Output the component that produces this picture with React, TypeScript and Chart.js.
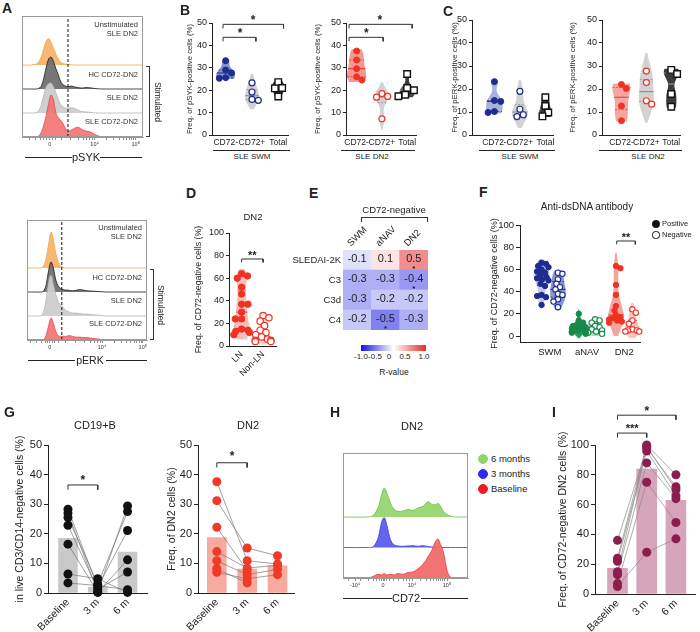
import React, { useEffect, useRef } from "react";
import { Chart, registerables } from "chart.js";

Chart.register(...registerables);

const FONT = "'Liberation Sans', Arial, Helvetica, sans-serif";
Chart.defaults.font.family = FONT;
Chart.defaults.color = "#222";

const INK = "#222222";
const NAVY = "#1d2c8e";
const RED = "#ee3324";
const GREEN = "#17894a";
const PLUM = "#8c1d4f";

/* ---------- A: phospho-flow overlays (x in biexponential display units 0-100) ---------- */
const FLOW_X = [0, 8, 12, 14, 16, 18, 20, 22, 24, 26, 28, 30, 32, 34, 36, 38, 41, 44, 47, 50, 53, 56, 59, 62, 66, 70, 100];
const PSYK_UNSTIM = [0, 0, 0.05, 0.15, 0.35, 0.7, 1.0, 1.1, 0.95, 0.7, 0.45, 0.25, 0.12, 0.06, 0.04, 0.02, 0.01, 0, 0, 0, 0, 0, 0, 0, 0, 0, 0];
const PSYK_HC = [0, 0, 0, 0.03, 0.12, 0.45, 0.9, 1.25, 1.33, 1.15, 0.85, 0.6, 0.3, 0.18, 0.12, 0.1, 0.12, 0.08, 0.05, 0.04, 0.06, 0.05, 0.03, 0.01, 0, 0, 0];
const PSYK_SLE = [0, 0, 0.02, 0.1, 0.35, 0.75, 1.1, 1.22, 1.25, 1.1, 0.85, 0.55, 0.35, 0.25, 0.2, 0.2, 0.22, 0.18, 0.1, 0.06, 0.04, 0.03, 0.01, 0, 0, 0, 0];
const PSYK_SLE_CD72NEG = [0, 0, 0.01, 0.05, 0.2, 0.5, 0.9, 1.4, 1.75, 1.55, 1.0, 0.8, 0.7, 0.55, 0.35, 0.25, 0.3, 0.38, 0.4, 0.3, 0.25, 0.22, 0.15, 0.06, 0.01, 0, 0];
const PERK_UNSTIM = [0, 0, 0, 0.1, 0.4, 1.0, 1.5, 1.2, 0.6, 0.25, 0.08, 0.02, 0, 0, 0, 0, 0, 0, 0, 0, 0, 0, 0, 0, 0, 0, 0];
const PERK_HC = [0, 0, 0, 0.05, 0.3, 0.9, 1.25, 1.0, 0.5, 0.25, 0.15, 0.1, 0.08, 0.08, 0.06, 0.05, 0.07, 0.1, 0.08, 0.05, 0.04, 0.03, 0.02, 0.01, 0, 0, 0];
const PERK_SLE = [0, 0, 0.02, 0.2, 0.7, 1.4, 1.7, 1.3, 0.9, 0.6, 0.45, 0.35, 0.25, 0.2, 0.15, 0.12, 0.12, 0.1, 0.08, 0.08, 0.06, 0.04, 0.03, 0.02, 0, 0, 0];
const PERK_SLE_CD72NEG = [0, 0, 0, 0.02, 0.2, 0.6, 0.92, 0.7, 0.35, 0.18, 0.15, 0.15, 0.15, 0.17, 0.18, 0.15, 0.12, 0.12, 0.1, 0.1, 0.08, 0.06, 0.04, 0.02, 0.01, 0, 0];
const FLOW_MAJOR_LABELS = ["0", "10\u2074", "10\u2075"];
const PSYK_MAJOR = [23, 60, 94];
const PSYK_MINOR = [6, 11, 15, 18, 20.5, 25.5, 28, 33, 40, 47, 50.5, 53.5, 56, 58, 70, 76, 80.5, 84, 86.5, 88.7, 90.5, 92.3];
const PSYK_GATE = 38;
const PERK_MAJOR = [19, 62.5, 96.5];
const PERK_MINOR = [3, 8, 12, 15, 17, 21, 23, 26, 32, 40, 48, 53, 56.5, 59, 61, 72.5, 78.5, 83, 86.5, 89.5, 91.5, 93.5, 95];
const PERK_GATE = 29;

/* ---------- B / C: phospho-positive frequencies ---------- */
const BC_GROUPS = ["CD72-", "CD72+", "Total"];
const PSYK_SWM_CD72NEG = [33.2, 29.0, 27.7, 25.6, 25.3];
const PSYK_SWM_CD72POS = [23.3, 19.2, 15.9, 15.5];
const PSYK_SWM_TOTAL = [23.6, 21.0, 20.8, 17.2];
const PSYK_DN2_CD72NEG = [37.5, 33.5, 29.6, 26.0, 24.5];
const PSYK_DN2_CD72POS = [18.5, 17.2, 16.9, 7.2];
const PSYK_DN2_TOTAL = [27.2, 21.0, 20.0, 18.0, 17.3];
const PERK_SWM_CD72NEG = [23.2, 15.0, 14.6, 10.2, 9.8];
const PERK_SWM_CD72POS = [19.0, 11.2, 8.8, 8.0];
const PERK_SWM_TOTAL = [16.4, 12.6, 9.8, 8.1];
const PERK_DN2_CD72NEG = [22.0, 20.2, 12.6, 6.2];
const PERK_DN2_CD72POS = [27.8, 22.8, 14.9, 13.4];
const PERK_DN2_TOTAL = [28.3, 26.5, 17.8, 12.3];

/* ---------- D: lupus nephritis ---------- */
const LN_GROUPS = ["LN", "Non-LN"];
const DN2_LN = [64, 62, 60, 52, 46, 37, 37, 30, 24, 24, 15, 14, 13, 12, 10];
const DN2_NON_LN = [27, 25, 22, 18, 14, 12, 10, 8, 6, 5, 5, 4, 4];

/* ---------- E: correlation heatmap ---------- */
const HEAT_COLS = ["SWM", "aNAV", "DN2"];
const HEAT_ROWS = ["SLEDAI-2K", "C3", "C3d", "C4"];
const R_SLEDAI = [-0.1, 0.1, 0.5];
const R_C3 = [-0.3, -0.3, -0.4];
const R_C3D = [-0.3, -0.2, -0.2];
const R_C4 = [-0.2, -0.5, -0.3];
const SIG_SLEDAI = [false, false, true];
const SIG_C3 = [false, false, true];
const SIG_C3D = [false, false, false];
const SIG_C4 = [false, true, false];

/* ---------- F: anti-dsDNA status ---------- */
const F_SUBSETS = ["SWM", "aNAV", "DN2"];
const F_SWM_POS = [66, 65, 63, 62, 60, 58, 57, 55, 53, 52, 51, 50, 47, 45, 37, 36, 35, 28];
const F_SWM_NEG = [57, 56, 51, 47, 44, 42, 38, 37, 33, 31, 26];
const F_ANAV_POS = [20, 14, 12, 10, 9, 8, 8, 7, 6, 5, 4, 4, 3, 2];
const F_ANAV_NEG = [15, 14, 12, 9, 8, 6, 5, 4, 3, 2];
const F_DN2_POS = [63, 61, 46, 37, 27, 23, 19, 17, 16, 15, 14, 13, 12];
const F_DN2_NEG = [24, 21, 14, 11, 6, 5, 5, 4, 4];

/* ---------- G / I: follow-up after treatment ---------- */
const TIMEPOINTS = ["Baseline", "3 m", "6 m"];
const CD19_BASE = [28.3, 27.0, 25.5, 22.9, 16.5, 6.4, 3.4];
const CD19_3M = [2.0, 0.3, 3.0, 1.2, 0.2, 4.8, 2.5];
const CD19_6M = [21.1, 29.4, 27.5, 7.1, 11.2, 0.2, 1.1];
const CD19_BAR = [18.5, 2.0, 13.8];
const DN2_BASE = [37.6, 31.2, 22.2, 14.0, 10.9, 8.2, 7.0];
const DN2_3M = [10.9, 15.2, 7.6, 8.4, 6.2, 3.4, 4.8];
const DN2_6M = [9.8, 12.6, null, 9.4, 8.0, null, 6.2];
const DN2_BAR = [18.7, 8.1, 9.2];
const CD72NEG_BASE = [36, 24, 22, 15, 13, 7, 5];
const CD72NEG_3M = [98, 100, 96, 99, 88, 75, 28];
const CD72NEG_6M = [72, 80, 66, 70, 64, 48, 37];
const CD72NEG_BAR = [17.3, 83.8, 62.8];

/* ---------- H: CD72 expression over time ---------- */
const CD72_X = [0, 20, 24, 28, 31, 33, 35, 38, 41, 44, 48, 52, 56, 60, 64, 68, 71, 74, 76, 78, 80, 82, 84, 87, 90, 100];
const CD72_6M = [0, 0, 0.05, 0.3, 0.75, 0.95, 0.8, 0.45, 0.25, 0.18, 0.2, 0.25, 0.22, 0.3, 0.35, 0.5, 0.42, 0.4, 0.45, 0.35, 0.2, 0.12, 0.06, 0.02, 0, 0];
const CD72_3M = [0, 0, 0.02, 0.3, 0.85, 0.98, 0.75, 0.25, 0.08, 0.05, 0.04, 0.05, 0.06, 0.04, 0.06, 0.03, 0.02, 0.01, 0, 0, 0, 0, 0, 0, 0, 0];
const CD72_BASE = [0, 0, 0.05, 0.12, 0.1, 0.15, 0.1, 0.12, 0.1, 0.15, 0.12, 0.18, 0.2, 0.3, 0.45, 0.7, 0.9, 1.2, 1.28, 1.1, 0.9, 0.5, 0.15, 0, 0, 0];
const CD72_MAJOR = [9.6, 32, 55.2, 83.2];
const CD72_MAJOR_LABELS = ["-10\u2074", "0", "10\u2074", "10\u2075"];
const CD72_MINOR = [4, 14, 20, 24, 27, 29, 30.5, 33.5, 35, 37, 40, 44, 48, 51, 53, 62, 66.5, 70, 72.5, 74.5, 76.3, 78, 79.5, 81.5];

/* ================= helpers ================= */
type Box = { l: number; t: number; r: number; b: number };
type PanelSpec = { area: Box; m: Box; make: () => any };
type Note = { x: number; y: number; text: string; size?: number; bold?: boolean; star?: boolean; color?: string };
type Violin = { c: number; vals: number[]; bw: number; ext: number; half: number; fill: string; line: string };

function rectOf(s: PanelSpec) {
  return {
    left: s.area.l - s.m.l,
    top: s.area.t - s.m.t,
    width: s.area.r - s.area.l + s.m.l + s.m.r,
    height: s.area.b - s.area.t + s.m.t + s.m.b,
  };
}

function baseOpts(pad: Box) {
  return {
    responsive: false,
    maintainAspectRatio: false,
    animation: false,
    devicePixelRatio: 1,
    events: [],
    layout: { padding: { left: pad.l, top: pad.t, right: pad.r, bottom: pad.b } },
    plugins: { legend: { display: false }, tooltip: { enabled: false }, title: { display: false } },
  };
}

// fixed axis thickness, and no automatic label-overflow padding
function fixWidth(w: number) {
  return (s: any) => {
    s.width = w;
    s.paddingTop = 0;
    s.paddingBottom = 0;
  };
}
function fixHeight(h: number) {
  return (s: any) => {
    s.height = h;
    s.paddingLeft = 0;
    s.paddingRight = 0;
  };
}

function yNum(o: { min: number; max: number; step?: number; ticks?: number[]; title: string; titleSize: number; tickSize: number; width: number; tickLen?: number; titlePad?: number }) {
  const ax: any = {
    type: "linear",
    position: "left",
    min: o.min,
    max: o.max,
    beginAtZero: false,
    afterFit: fixWidth(o.width),
    ticks: { stepSize: o.step, font: { size: o.tickSize }, color: INK, padding: 2, autoSkip: false },
    grid: { drawOnChartArea: false, drawTicks: true, tickLength: o.tickLen ?? 3, color: INK, lineWidth: 1 },
    border: { display: true, color: INK, width: 1 },
    title: { display: true, text: o.title, font: { size: o.titleSize }, color: INK, padding: { top: o.titlePad ?? 0, bottom: 0 } },
  };
  if (o.ticks) ax.afterBuildTicks = (s: any) => { s.ticks = o.ticks!.map((v) => ({ value: v })); };
  return ax;
}

function xCat(o: { min: number; max: number; labels: string[]; size: number; height: number; rotate?: number; pad?: number }) {
  return {
    type: "linear",
    position: "bottom",
    min: o.min,
    max: o.max,
    offset: false,
    afterFit: fixHeight(o.height),
    afterBuildTicks: (s: any) => { s.ticks = o.labels.map((_, i) => ({ value: i })); },
    ticks: {
      autoSkip: false,
      minRotation: o.rotate ?? 0,
      maxRotation: o.rotate ?? 0,
      padding: o.pad ?? 3,
      font: { size: o.size },
      color: INK,
      callback: (v: number) => o.labels[v] ?? "",
    },
    grid: { drawOnChartArea: false, drawTicks: false, offset: false },
    border: { display: true, color: INK, width: 1 },
  };
}

function swarm(vals: number[], pxX: number, pxY: number, diam: number, limit = 10): number[] {
  const order = vals.map((_, i) => i).sort((a, b) => vals[b] - vals[a]);
  const placed: { x: number; y: number }[] = [];
  const out = vals.map(() => 0);
  let side = 1;
  for (const i of order) {
    const y = vals[i] * pxY;
    let best = 0;
    search: for (let k = 0; k <= 60; k++) {
      const cands = k === 0 ? [0] : [k * 0.5 * side, -k * 0.5 * side];
      for (const c of cands) {
        if (placed.every((p) => (p.x - c) ** 2 + (p.y - y) ** 2 >= diam * diam)) {
          best = c;
          break search;
        }
      }
    }
    if (best !== 0) side = best > 0 ? -1 : 1;
    best = Math.max(-limit, Math.min(limit, best));
    placed.push({ x: best, y });
    out[i] = best / pxX;
  }
  return out;
}

function dots(xs: number[], ys: (number | null)[], s: { r: number; fill: string; stroke: string; bw?: number; shape?: string }) {
  return {
    type: "scatter",
    data: ys.map((y, i) => ({ x: xs[i], y })),
    pointRadius: s.r,
    pointBackgroundColor: s.fill,
    pointBorderColor: s.stroke,
    pointBorderWidth: s.bw ?? 1,
    pointStyle: s.shape ?? "circle",
    order: 0,
    clip: false,
  };
}

function bracket(x1: number, x2: number, y: number, drop: number) {
  return {
    type: "line",
    data: [
      { x: x1, y: y - drop },
      { x: x1, y },
      { x: x2, y },
      { x: x2, y: y - drop },
    ],
    borderColor: "#333",
    borderWidth: 1,
    pointRadius: 0,
    fill: false,
    tension: 0,
    clip: false,
    order: 1,
  };
}

function kde(vals: number[], bw: number, ext: number, half: number) {
  const lo = Math.min(...vals) - ext;
  const hi = Math.max(...vals) + ext;
  const n = 48;
  const prof: { y: number; w: number }[] = [];
  for (let i = 0; i <= n; i++) {
    const y = lo + ((hi - lo) * i) / n;
    let d = 0;
    for (const v of vals) d += Math.exp(-0.5 * ((y - v) / bw) ** 2);
    prof.push({ y, w: d });
  }
  const m = Math.max(...prof.map((p) => p.w));
  return prof.map((p) => ({ y: p.y, w: (half * p.w) / m }));
}

function quantile(sorted: number[], p: number) {
  const pos = (sorted.length - 1) * p;
  const lo = Math.floor(pos);
  const hi = Math.ceil(pos);
  return sorted[lo] + (sorted[hi] - sorted[lo]) * (pos - lo);
}

function widthAt(prof: { y: number; w: number }[], y: number) {
  for (let i = 1; i < prof.length; i++) {
    if (prof[i].y >= y) {
      const a = prof[i - 1];
      const b = prof[i];
      const t = (y - a.y) / (b.y - a.y || 1);
      return a.w + (b.w - a.w) * t;
    }
  }
  return 0;
}

function violinPlugin(vs: Violin[]) {
  return {
    id: "violins",
    beforeDatasetsDraw(chart: any) {
      const { ctx } = chart;
      const sx = chart.scales.x;
      const sy = chart.scales.y;
      for (const v of vs) {
        const prof = kde(v.vals, v.bw, v.ext, v.half);
        ctx.save();
        ctx.beginPath();
        prof.forEach((p, i) => {
          const X = sx.getPixelForValue(v.c + p.w);
          const Y = sy.getPixelForValue(p.y);
          if (i) ctx.lineTo(X, Y);
          else ctx.moveTo(X, Y);
        });
        for (let i = prof.length - 1; i >= 0; i--) {
          ctx.lineTo(sx.getPixelForValue(v.c - prof[i].w), sy.getPixelForValue(prof[i].y));
        }
        ctx.closePath();
        ctx.fillStyle = v.fill;
        ctx.fill();
        const s = [...v.vals].sort((a, b) => a - b);
        [quantile(s, 0.5), quantile(s, 0.25), quantile(s, 0.75)].forEach((q, k) => {
          const w = widthAt(prof, q);
          const Y = sy.getPixelForValue(q);
          ctx.beginPath();
          ctx.setLineDash(k ? [2, 1.5] : []);
          ctx.lineWidth = k ? 0.8 : 1.1;
          ctx.strokeStyle = v.line;
          ctx.moveTo(sx.getPixelForValue(v.c - w), Y);
          ctx.lineTo(sx.getPixelForValue(v.c + w), Y);
          ctx.stroke();
        });
        ctx.restore();
      }
    },
  };
}

function notesPlugin(notes: Note[]) {
  return {
    id: "notes",
    afterDatasetsDraw(chart: any) {
      const { ctx } = chart;
      const sx = chart.scales.x;
      const sy = chart.scales.y;
      ctx.save();
      for (const n of notes) {
        const size = n.size ?? 10;
        ctx.font = `${n.bold ? "bold " : ""}${size}px ${FONT}`;
        ctx.fillStyle = n.color ?? INK;
        ctx.textAlign = "center";
        const px = sx.getPixelForValue(n.x);
        const py = sy.getPixelForValue(n.y);
        if (n.star) {
          ctx.textBaseline = "alphabetic";
          ctx.fillText(n.text, px, py + size * 0.58);
        } else {
          ctx.textBaseline = "middle";
          ctx.fillText(n.text, px, py);
        }
      }
      ctx.restore();
    },
  };
}

function framePlugin(color: string) {
  return {
    id: "frame",
    afterDatasetsDraw(chart: any) {
      const { ctx, chartArea: a } = chart;
      ctx.save();
      ctx.strokeStyle = color;
      ctx.lineWidth = 1;
      ctx.strokeRect(Math.round(a.left) + 0.5, Math.round(a.top) + 0.5, Math.round(a.right - a.left) - 1, Math.round(a.bottom - a.top) - 1);
      ctx.restore();
    },
  };
}

function rColor(r: number) {
  const k = Math.pow(Math.min(1, Math.abs(r)), 0.9);
  const end = r < 0 ? [20, 20, 225] : [232, 40, 40];
  const c = end.map((e) => Math.round(255 + (e - 255) * k));
  return `rgb(${c[0]},${c[1]},${c[2]})`;
}

/* ================= panel builders ================= */
type FlowRow = { d: number[]; base: number; fill: string; line: string };

function flowPanel(o: { area: Box; m: Box; xs: number[]; rows: FlowRow[]; yMax: number; gate?: number; major: number[]; majorLabels: string[]; minor: number[] }): PanelSpec {
  return {
    area: o.area,
    m: o.m,
    make: () => {
      const ticks = [...o.major, ...o.minor].sort((a, b) => a - b);
      const datasets: any[] = o.rows.map((r, i) => ({
        type: "line",
        data: o.xs.map((x, k) => ({ x, y: r.base + r.d[k] })),
        fill: { value: r.base },
        backgroundColor: r.fill,
        borderColor: r.line,
        borderWidth: 0.8,
        pointRadius: 0,
        tension: 0.35,
        order: i + 1,
      }));
      if (o.gate !== undefined) {
        datasets.push({
          type: "line",
          data: [{ x: o.gate, y: 0 }, { x: o.gate, y: o.yMax }],
          borderColor: "#111",
          borderWidth: 1,
          borderDash: [3, 2],
          pointRadius: 0,
          fill: false,
          order: 0,
        });
      }
      return {
        type: "scatter",
        data: { datasets },
        options: {
          ...baseOpts({ l: o.m.l, t: o.m.t, r: o.m.r, b: 0 }),
          scales: {
            x: {
              type: "linear",
              min: 0,
              max: 100,
              offset: false,
              afterFit: fixHeight(o.m.b),
              afterBuildTicks: (s: any) => { s.ticks = ticks.map((v) => ({ value: v })); },
              ticks: {
                autoSkip: false,
                minRotation: 0,
                maxRotation: 0,
                padding: 1,
                font: { size: 5.5 },
                color: "#333",
                callback: (v: number) => {
                  const j = o.major.indexOf(v);
                  return j >= 0 ? o.majorLabels[j] : "";
                },
              },
              grid: { drawOnChartArea: false, drawTicks: true, tickLength: 3, color: "#444", lineWidth: 0.6 },
              border: { display: true, color: "#999", width: 1 },
            },
            y: { display: false, min: 0, max: o.yMax },
          },
        },
        plugins: [framePlugin("#9a9a9a")],
      };
    },
  };
}

function phosphoPanel(o: {
  area: Box; m: Box; xMin: number; xMax: number; title: string;
  neg: number[]; pos: number[]; tot: number[];
  tone: string; toneSoft: string; toneLine: string;
  bws: [number, number][]; halves: number[];
  brackets: [number, number, number][]; stars: Note[];
}): PanelSpec {
  return {
    area: o.area,
    m: o.m,
    make: () => {
      const pxX = (o.area.r - o.area.l) / (o.xMax - o.xMin);
      const pxY = (o.area.b - o.area.t) / 50;
      const at = (vals: number[], c: number, d: number) => swarm(vals, pxX, pxY, d, 9).map((v) => c + v);
      const datasets: any[] = [
        dots(at(o.neg, 0, 6.4), o.neg, { r: 3, fill: o.tone, stroke: o.tone }),
        dots(at(o.pos, 1, 6.4), o.pos, { r: 3, fill: "#fff", stroke: o.tone, bw: 1.2 }),
        dots(at(o.tot, 2, 7), o.tot, { r: 4.6, fill: "#fff", stroke: "#111", bw: 1.4, shape: "rect" }),
        ...o.brackets.map(([a, b, y]) => bracket(a, b, y, 1.8)),
      ];
      const violins: Violin[] = [
        { c: 0, vals: o.neg, bw: o.bws[0][0], ext: o.bws[0][1], half: o.halves[0], fill: o.toneSoft, line: o.toneLine },
        { c: 1, vals: o.pos, bw: o.bws[1][0], ext: o.bws[1][1], half: o.halves[1], fill: "#d2d2d2", line: "#8a8a8a" },
        { c: 2, vals: o.tot, bw: o.bws[2][0], ext: o.bws[2][1], half: o.halves[2], fill: "#3b3b3b", line: "#9a9a9a" },
      ];
      return {
        type: "scatter",
        data: { datasets },
        options: {
          ...baseOpts({ l: 0, t: o.m.t, r: o.m.r, b: 0 }),
          scales: {
            x: xCat({ min: o.xMin, max: o.xMax, labels: BC_GROUPS, size: 8.5, height: o.m.b, pad: 3 }),
            y: yNum({ min: 0, max: 50, step: 10, title: o.title, titleSize: 7.8, tickSize: 9, width: o.m.l }),
          },
        },
        plugins: [violinPlugin(violins), notesPlugin(o.stars)],
      };
    },
  };
}

function pairedPanel(o: {
  area: Box; m: Box; xMin: number; xMax: number; yMax: number; yStep: number; title: string; titlePad?: number;
  bars: number[]; base: (number | null)[]; m3: (number | null)[]; m6: (number | null)[];
  barColor: string; dotColor: string; lineColor: string; barWidth: number;
  brackets: [number, number, number, number][]; stars: Note[];
}): PanelSpec {
  return {
    area: o.area,
    m: o.m,
    make: () => {
      const datasets: any[] = [
        {
          type: "bar",
          data: o.bars.map((v, i) => ({ x: i, y: v })),
          backgroundColor: o.barColor,
          borderWidth: 0,
          barThickness: o.barWidth,
          order: 3,
        },
        ...o.base.map((b, i) => ({
          type: "line",
          data: [b, o.m3[i], o.m6[i]].map((y, k) => ({ x: k, y })),
          borderColor: o.lineColor,
          borderWidth: 0.7,
          pointRadius: 0,
          fill: false,
          tension: 0,
          spanGaps: false,
          order: 2,
        })),
        dots(
          [...o.base.map(() => 0), ...o.m3.map(() => 1), ...o.m6.map(() => 2)],
          [...o.base, ...o.m3, ...o.m6],
          { r: 4.5, fill: o.dotColor, stroke: o.dotColor, bw: 0 },
        ),
        ...o.brackets.map(([a, b, y, d]) => bracket(a, b, y, d)),
      ];
      return {
        type: "scatter",
        data: { datasets },
        options: {
          ...baseOpts({ l: 0, t: o.m.t, r: o.m.r, b: 0 }),
          scales: {
            x: xCat({ min: o.xMin, max: o.xMax, labels: TIMEPOINTS, size: 10.5, height: o.m.b, rotate: 45, pad: 3 }),
            y: yNum({ min: 0, max: o.yMax, step: o.yStep, title: o.title, titleSize: 10.5, tickSize: 11, width: o.m.l, tickLen: 4, titlePad: o.titlePad }),
          },
        },
        plugins: [notesPlugin(o.stars)],
      };
    },
  };
}

/* ================= panels ================= */
const SPECS: PanelSpec[] = [
  // A – pSYK overlays
  flowPanel({
    area: { l: 22, t: 16, r: 143, b: 137 },
    m: { l: 2, t: 2, r: 2, b: 12 },
    xs: FLOW_X,
    yMax: 121 / 24,
    gate: PSYK_GATE,
    major: PSYK_MAJOR,
    majorLabels: FLOW_MAJOR_LABELS,
    minor: PSYK_MINOR,
    rows: [
      { d: PSYK_SLE_CD72NEG, base: 0, fill: "rgba(242,116,116,0.92)", line: "#e64a4a" },
      { d: PSYK_SLE, base: 1, fill: "rgba(205,205,205,0.95)", line: "#b5b5b5" },
      { d: PSYK_HC, base: 2, fill: "rgba(112,112,112,0.95)", line: "#1e1e1e" },
      { d: PSYK_UNSTIM, base: 3, fill: "rgba(248,180,105,0.95)", line: "#f3a650" },
    ],
  }),
  // A – pERK overlays
  flowPanel({
    area: { l: 27, t: 220, r: 147, b: 340 },
    m: { l: 2, t: 2, r: 2, b: 12 },
    xs: FLOW_X,
    yMax: 5,
    gate: PERK_GATE,
    major: PERK_MAJOR,
    majorLabels: FLOW_MAJOR_LABELS,
    minor: PERK_MINOR,
    rows: [
      { d: PERK_SLE_CD72NEG, base: 0, fill: "rgba(242,116,116,0.92)", line: "#e64a4a" },
      { d: PERK_SLE, base: 1, fill: "rgba(205,205,205,0.95)", line: "#b5b5b5" },
      { d: PERK_HC, base: 2, fill: "rgba(112,112,112,0.95)", line: "#1e1e1e" },
      { d: PERK_UNSTIM, base: 3, fill: "rgba(248,180,105,0.95)", line: "#f3a650" },
    ],
  }),
  // B – pSYK, SLE SWM
  phosphoPanel({
    area: { l: 212, t: 23, r: 290, b: 135 },
    m: { l: 27, t: 20, r: 4, b: 14 },
    xMin: -0.52, xMax: 2.37,
    title: "Freq. of pSYK-positive cells (%)",
    neg: PSYK_SWM_CD72NEG, pos: PSYK_SWM_CD72POS, tot: PSYK_SWM_TOTAL,
    tone: NAVY, toneSoft: "#8591cc", toneLine: "#2a3590",
    bws: [[1.8, 0.3], [3, 4], [1.8, 0.5]], halves: [0.36, 0.26, 0.26],
    brackets: [[-0.1, 1.15, 43.6], [-0.1, 2.2, 49.4]],
    stars: [{ x: 0.55, y: 46.8, text: "*", size: 12, bold: true, star: true }, { x: 1.04, y: 52.8, text: "*", size: 12, bold: true, star: true }],
  }),
  // B – pSYK, SLE DN2
  phosphoPanel({
    area: { l: 346, t: 23, r: 418, b: 135 },
    m: { l: 33, t: 20, r: 4, b: 14 },
    xMin: -0.42, xMax: 2.35,
    title: "Freq. of pSYK-positive cells (%)",
    neg: PSYK_DN2_CD72NEG, pos: PSYK_DN2_CD72POS, tot: PSYK_DN2_TOTAL,
    tone: RED, toneSoft: "#f29a92", toneLine: "#d23a2e",
    bws: [[3, 0.8], [3, 5], [2, 0.5]], halves: [0.38, 0.28, 0.3],
    brackets: [[-0.3, 1.05, 43.6], [-0.3, 2.2, 49.4]],
    stars: [{ x: 0.38, y: 46.8, text: "*", size: 12, bold: true, star: true }, { x: 0.92, y: 52.8, text: "*", size: 12, bold: true, star: true }],
  }),
  // C – pERK, SLE SWM
  phosphoPanel({
    area: { l: 472, t: 20, r: 555, b: 135 },
    m: { l: 22, t: 8, r: 4, b: 14 },
    xMin: -0.88, xMax: 2.3,
    title: "Freq. of pERK-positive cells (%)",
    neg: PERK_SWM_CD72NEG, pos: PERK_SWM_CD72POS, tot: PERK_SWM_TOTAL,
    tone: NAVY, toneSoft: "#a9b1dd", toneLine: "#2a3590",
    bws: [[2.5, 0.5], [3.5, 5], [2, 0.3]], halves: [0.32, 0.3, 0.24],
    brackets: [],
    stars: [],
  }),
  // C – pERK, SLE DN2
  phosphoPanel({
    area: { l: 602, t: 20, r: 682, b: 135 },
    m: { l: 34, t: 8, r: 4, b: 14 },
    xMin: -0.78, xMax: 2.35,
    title: "Freq. of pERK-positive cells (%)",
    neg: PERK_DN2_CD72NEG, pos: PERK_DN2_CD72POS, tot: PERK_DN2_TOTAL,
    tone: RED, toneSoft: "#f7a59e", toneLine: "#d84a3e",
    bws: [[4, 0.3], [5, 8], [3, 0.5]], halves: [0.36, 0.3, 0.3],
    brackets: [],
    stars: [],
  }),
  // D – LN vs non-LN
  {
    area: { l: 229, t: 233, r: 278, b: 346 },
    m: { l: 36, t: 30, r: 4, b: 30 },
    make: () => {
      const pxX = 49 / 2.23;
      const pxY = 1.13;
      const xsLN = swarm(DN2_LN, pxX, pxY, 6.2, 8);
      const xsNon = swarm(DN2_NON_LN, pxX, pxY, 6.2, 8).map((v) => 1 + v);
      return {
        type: "scatter",
        data: {
          datasets: [
            dots(xsLN, DN2_LN, { r: 3.2, fill: RED, stroke: RED }),
            dots(xsNon, DN2_NON_LN, { r: 3.2, fill: "#fff", stroke: RED, bw: 1.2 }),
            bracket(0, 1, 77, 3),
          ],
        },
        options: {
          ...baseOpts({ l: 0, t: 30, r: 4, b: 0 }),
          scales: {
            x: xCat({ min: -0.59, max: 1.64, labels: LN_GROUPS, size: 9, height: 30, rotate: 45, pad: 3 }),
            y: yNum({ min: 0, max: 100, step: 20, title: "Freq. of CD72-negative cells (%)", titleSize: 8.8, tickSize: 9, width: 36 }),
          },
        },
        plugins: [
          violinPlugin([
            { c: 0, vals: DN2_LN, bw: 7, ext: 4, half: 0.38, fill: "#fbbdb5", line: "#e5584a" },
            { c: 1, vals: DN2_NON_LN, bw: 4, ext: 3, half: 0.34, fill: "#fdd5cf", line: "#ee8a80" },
          ]),
          notesPlugin([{ x: 0.5, y: 82.5, text: "**", size: 11, bold: true, star: true }]),
        ],
      };
    },
  },
  // E – correlation heatmap
  {
    area: { l: 343, t: 250, r: 428, b: 330 },
    m: { l: 56, t: 26, r: 6, b: 2 },
    make: () => {
      const rowsTopDown = [R_SLEDAI, R_C3, R_C3D, R_C4];
      const sigTopDown = [SIG_SLEDAI, SIG_C3, SIG_C3D, SIG_C4];
      const labelsBottomUp = [...HEAT_ROWS].reverse();
      const notes: Note[] = [];
      rowsTopDown.forEach((vals, r) => {
        vals.forEach((v, c) => {
          notes.push({ x: c, y: 3.5 - r + 0.04, text: v.toFixed(1), size: 11 });
          if (sigTopDown[r][c]) notes.push({ x: c, y: 3.5 - r - 0.33, text: "*", size: 8, bold: true, star: true });
        });
      });
      return {
        type: "bar",
        data: {
          labels: HEAT_COLS,
          datasets: [...rowsTopDown].reverse().map((vals, i) => ({
            label: labelsBottomUp[i],
            data: vals.map(() => 1),
            backgroundColor: vals.map(rColor),
            borderWidth: 0,
            barPercentage: 1,
            categoryPercentage: 1,
            stack: "r",
          })),
        },
        options: {
          ...baseOpts({ l: 0, t: 0, r: 6, b: 2 }),
          scales: {
            x: {
              type: "category",
              position: "top",
              stacked: true,
              afterFit: fixHeight(26),
              ticks: { font: { size: 9.5 }, color: INK, minRotation: 45, maxRotation: 45, padding: 1, autoSkip: false },
              grid: { display: false, drawTicks: false },
              border: { display: false },
            },
            y: {
              type: "linear",
              stacked: true,
              min: 0,
              max: 4,
              afterFit: fixWidth(56),
              afterBuildTicks: (s: any) => { s.ticks = [0.5, 1.5, 2.5, 3.5].map((v) => ({ value: v })); },
              ticks: { font: { size: 9.5 }, color: INK, padding: 2, callback: (_v: number, i: number) => labelsBottomUp[i] },
              grid: { display: false, drawTicks: false },
              border: { display: false },
            },
          },
        },
        plugins: [notesPlugin(notes)],
      };
    },
  },
  // F – anti-dsDNA positive / negative
  {
    area: { l: 520, t: 225, r: 642, b: 342 },
    m: { l: 32, t: 10, r: 4, b: 18 },
    make: () => {
      const pxX = 122 / 3.25;
      const pxY = 117 / 105.4;
      const groups = [
        { pos: F_SWM_POS, neg: F_SWM_NEG, tone: NAVY, soft: ["#c3c9ea", "#8a96d0"], line: "#2a3590", bw: [[5, 3], [5, 2]] },
        { pos: F_ANAV_POS, neg: F_ANAV_NEG, tone: GREEN, soft: ["#2a9a5a", "#a9dcb9"], line: "#0c5a2e", bw: [[3, 4], [3, 2]] },
        { pos: F_DN2_POS, neg: F_DN2_NEG, tone: RED, soft: ["#f6a59c", "#f9c6bf"], line: "#d84a3e", bw: [[10, 12], [5, 6]] },
      ];
      const datasets: any[] = [];
      const violins: Violin[] = [];
      groups.forEach((g, k) => {
        const cp = k - 0.22;
        const cn = k + 0.22;
        datasets.push(dots(swarm(g.pos, pxX, pxY, 4.6, 7).map((v) => cp + v), g.pos, { r: 2.7, fill: g.tone, stroke: g.tone }));
        datasets.push(dots(swarm(g.neg, pxX, pxY, 4.6, 7).map((v) => cn + v), g.neg, { r: 2.7, fill: "#fff", stroke: g.tone, bw: 1.1 }));
        violins.push({ c: cp, vals: g.pos, bw: g.bw[0][0], ext: g.bw[0][1], half: 0.21, fill: g.soft[0], line: g.line });
        violins.push({ c: cn, vals: g.neg, bw: g.bw[1][0], ext: g.bw[1][1], half: 0.21, fill: g.soft[1], line: g.line });
      });
      datasets.push(bracket(1.8, 2.3, 85.6, 3));
      return {
        type: "scatter",
        data: { datasets },
        options: {
          ...baseOpts({ l: 0, t: 10, r: 4, b: 0 }),
          scales: {
            x: xCat({ min: -0.8, max: 2.45, labels: F_SUBSETS, size: 9.5, height: 18, pad: 5 }),
            y: yNum({ min: -5.4, max: 100, ticks: [0, 20, 40, 60, 80, 100], title: "Freq. of CD72-negative cells (%)", titleSize: 9, tickSize: 9.5, width: 32, tickLen: 4, titlePad: 1.5 }),
          },
        },
        plugins: [violinPlugin(violins), notesPlugin([{ x: 2.05, y: 91.5, text: "**", size: 11, bold: true, star: true }])],
      };
    },
  },
  // G – CD19+ B cells
  pairedPanel({
    area: { l: 48, t: 445, r: 148, b: 593 },
    m: { l: 34, t: 40, r: 4, b: 38 },
    xMin: -0.67, xMax: 2.67, yMax: 50, yStep: 10,
    title: "in live CD3/CD14-negative cells (%)",
    bars: CD19_BAR, base: CD19_BASE, m3: CD19_3M, m6: CD19_6M,
    barColor: "#c9c9c9", dotColor: "#111", lineColor: "#777", barWidth: 19,
    brackets: [[0, 1, 36.5, 1.6]],
    stars: [{ x: 0.5, y: 39.3, text: "*", size: 12, bold: true, star: true }],
  }),
  // G – DN2 cells
  pairedPanel({
    area: { l: 198, t: 445, r: 295, b: 593 },
    m: { l: 34, t: 40, r: 4, b: 38 },
    xMin: -0.62, xMax: 2.56, yMax: 50, yStep: 10,
    title: "Freq. of DN2 cells (%)", titlePad: 1.5,
    bars: DN2_BAR, base: DN2_BASE, m3: DN2_3M, m6: DN2_6M,
    barColor: "#f7aaa0", dotColor: "#f03a28", lineColor: "#777", barWidth: 19,
    brackets: [[0, 1, 44, 1.6]],
    stars: [{ x: 0.5, y: 47.2, text: "*", size: 12, bold: true, star: true }],
  }),
  // H – CD72 histograms
  flowPanel({
    area: { l: 343, t: 453, r: 468, b: 578 },
    m: { l: 2, t: 2, r: 2, b: 14 },
    xs: CD72_X,
    yMax: 125 / 30.5,
    major: CD72_MAJOR,
    majorLabels: CD72_MAJOR_LABELS,
    minor: CD72_MINOR,
    rows: [
      { d: CD72_BASE, base: 0, fill: "rgba(242,106,106,0.95)", line: "#e53e3e" },
      { d: CD72_3M, base: 1, fill: "rgba(92,92,240,0.95)", line: "#3b3bd8" },
      { d: CD72_6M, base: 2, fill: "rgba(150,214,112,0.95)", line: "#6fbf4a" },
    ],
  }),
  // I – CD72-negative DN2 cells
  pairedPanel({
    area: { l: 595, t: 445, r: 698, b: 594 },
    m: { l: 38, t: 44, r: 2, b: 38 },
    xMin: -0.77, xMax: 2.67, yMax: 100, yStep: 20,
    title: "Freq. of CD72-negative DN2 cells (%)",
    bars: CD72NEG_BAR, base: CD72NEG_BASE, m3: CD72NEG_3M, m6: CD72NEG_6M,
    barColor: "#d6a4bb", dotColor: PLUM, lineColor: "#8a8a8a", barWidth: 20,
    brackets: [[0, 1, 108, 3], [0, 2, 120, 3]],
    stars: [
      { x: 0.5, y: 113, text: "***", size: 11, bold: true, star: true },
      { x: 1, y: 125, text: "*", size: 12, bold: true, star: true },
    ],
  }),
];

/* ================= overlay text ================= */
function T(p: { x: number; y: number; s?: number; a?: "l" | "c" | "r"; w?: number; c?: string; r?: number; children: any }) {
  const tx = p.a === "l" ? "0" : p.a === "r" ? "-100%" : "-50%";
  return (
    <div
      style={{
        position: "absolute",
        left: p.x,
        top: p.y,
        transform: `translate(${tx}, -50%)${p.r ? ` rotate(${p.r}deg)` : ""}`,
        fontSize: p.s ?? 9,
        fontWeight: p.w ?? 400,
        color: p.c ?? INK,
        lineHeight: 1,
        whiteSpace: "nowrap",
        fontFamily: FONT,
      }}
    >
      {p.children}
    </div>
  );
}

function HL(p: { x1: number; x2: number; y: number; c?: string }) {
  return <div style={{ position: "absolute", left: p.x1, top: p.y, width: p.x2 - p.x1, height: 0, borderTop: `1px solid ${p.c ?? INK}` }} />;
}

function Bracket(p: { x: number; y: number; w: number; h: number; open: "left" | "bottom" }) {
  return (
    <div
      style={{
        position: "absolute",
        left: p.x,
        top: p.y,
        width: p.w,
        height: p.h,
        boxSizing: "border-box",
        border: "1px solid #333",
        borderLeft: p.open === "left" ? "none" : "1px solid #333",
        borderBottom: p.open === "bottom" ? "none" : "1px solid #333",
      }}
    />
  );
}

function Dot(p: { x: number; y: number; r: number; fill: string; stroke: string }) {
  return (
    <div
      style={{
        position: "absolute",
        left: p.x - p.r,
        top: p.y - p.r,
        width: p.r * 2,
        height: p.r * 2,
        boxSizing: "border-box",
        borderRadius: "50%",
        background: p.fill,
        border: `1px solid ${p.stroke}`,
      }}
    />
  );
}

export default function App() {
  const refs = useRef<(HTMLCanvasElement | null)[]>([]);

  useEffect(() => {
    const charts = SPECS.map((s, i) => {
      const cv = refs.current[i];
      return cv ? new Chart(cv, s.make()) : null;
    });
    return () => charts.forEach((c) => c && c.destroy());
  }, []);

  const L = 14;
  return (
    <div style={{ position: "fixed", left: 0, top: 0, width: 700, height: 632, background: "#fff", overflow: "hidden", fontFamily: FONT, color: INK }}>
      {SPECS.map((s, i) => {
        const r = rectOf(s);
        return (
          <canvas
            key={i}
            ref={(el) => { refs.current[i] = el; }}
            width={r.width}
            height={r.height}
            style={{ position: "absolute", left: r.left, top: r.top, width: r.width, height: r.height }}
          />
        );
      })}

      {/* panel letters */}
      <T x={2} y={8} s={L} w={700} a="l">A</T>
      <T x={180} y={10} s={L} w={700} a="l">B</T>
      <T x={443} y={11} s={L} w={700} a="l">C</T>
      <T x={186} y={193} s={L} w={700} a="l">D</T>
      <T x={309} y={193} s={L} w={700} a="l">E</T>
      <T x={479} y={192} s={L} w={700} a="l">F</T>
      <T x={4} y={412} s={L} w={700} a="l">G</T>
      <T x={330} y={412} s={L} w={700} a="l">H</T>
      <T x={552} y={412} s={L} w={700} a="l">I</T>

      {/* A – pSYK */}
      <T x={138} y={25} s={7.5} a="r" c="#333">Unstimulated</T>
      <T x={138} y={33.5} s={7.5} a="r" c="#333">SLE DN2</T>
      <T x={138} y={75} s={7.5} a="r" c="#333">HC CD72-DN2</T>
      <T x={138} y={98} s={7.5} a="r" c="#333">SLE DN2</T>
      <T x={138} y={122} s={7.5} a="r" c="#333">SLE CD72-DN2</T>
      <T x={86} y={157} s={11}>pSYK</T>
      <HL x1={25} x2={72} y={157} />
      <HL x1={100} x2={142} y={157} />
      <Bracket x={146} y={66} w={4} h={71} open="left" />
      <T x={157.5} y={101.5} s={8.5} r={90}>Stimulated</T>

      {/* A – pERK */}
      <T x={142} y={228} s={7.5} a="r" c="#333">Unstimulated</T>
      <T x={142} y={237} s={7.5} a="r" c="#333">SLE DN2</T>
      <T x={142} y={278} s={7.5} a="r" c="#333">HC CD72-DN2</T>
      <T x={142} y={301} s={7.5} a="r" c="#333">SLE DN2</T>
      <T x={142} y={324} s={7.5} a="r" c="#333">SLE CD72-DN2</T>
      <T x={90} y={360} s={10.5}>pERK</T>
      <HL x1={28} x2={75} y={360} />
      <HL x1={106} x2={147} y={360} />
      <Bracket x={150} y={269} w={4} h={71} open="left" />
      <T x={161} y={304.5} s={8.5} r={90}>Stimulated</T>

      {/* B / C group captions */}
      <HL x1={213} x2={290} y={149.5} />
      <T x={252} y={157} s={8}>SLE SWM</T>
      <HL x1={341} x2={415} y={149.5} />
      <T x={372} y={157} s={8}>SLE DN2</T>
      <HL x1={479} x2={555} y={149.5} />
      <T x={520} y={157} s={8}>SLE SWM</T>
      <HL x1={599} x2={682} y={149.5} />
      <T x={648} y={157} s={8}>SLE DN2</T>

      {/* D */}
      <T x={253} y={217} s={9.5}>DN2</T>

      {/* E */}
      <T x={394} y={210} s={9.5}>CD72-negative</T>
      <Bracket x={361} y={217} w={67} h={5} open="bottom" />
      <div style={{ position: "absolute", left: 361, top: 345, width: 65, height: 6, background: "linear-gradient(to right, rgb(20,20,225), #ffffff 50%, rgb(232,40,40))" }} />
      <T x={361} y={357} s={8}>-1.0</T>
      <T x={375} y={357} s={8}>-0.5</T>
      <T x={389} y={357} s={8}>0</T>
      <T x={405} y={357} s={8}>0.5</T>
      <T x={424} y={357} s={8}>1.0</T>
      <T x={394} y={372} s={8.5}>R-value</T>

      {/* F */}
      <T x={587} y={207} s={10}>Anti-dsDNA antibody</T>
      <Dot x={656} y={224} r={3.6} fill="#111" stroke="#111" />
      <T x={662} y={224} s={7.5} a="l">Positive</T>
      <Dot x={656} y={235} r={3.6} fill="#fff" stroke="#111" />
      <T x={662} y={235} s={7.5} a="l">Negative</T>

      {/* G */}
      <T x={95} y={425} s={11}>CD19+B</T>
      <T x={248} y={425} s={11}>DN2</T>

      {/* H */}
      <T x={412} y={426} s={11}>DN2</T>
      <Dot x={483} y={459} r={5} fill="#8fd46a" stroke="#8fd46a" />
      <T x={491} y={459} s={9.5} a="l">6 months</T>
      <Dot x={483} y={474} r={5} fill="#2a2af0" stroke="#2a2af0" />
      <T x={491} y={474} s={9.5} a="l">3 months</T>
      <Dot x={483} y={489} r={5} fill="#ee1c1c" stroke="#ee1c1c" />
      <T x={491} y={489} s={9.5} a="l">Baseline</T>
      <T x={406} y={598} s={11}>CD72</T>
      <HL x1={343} x2={392} y={598} />
      <HL x1={421} x2={468} y={598} />
    </div>
  );
}
